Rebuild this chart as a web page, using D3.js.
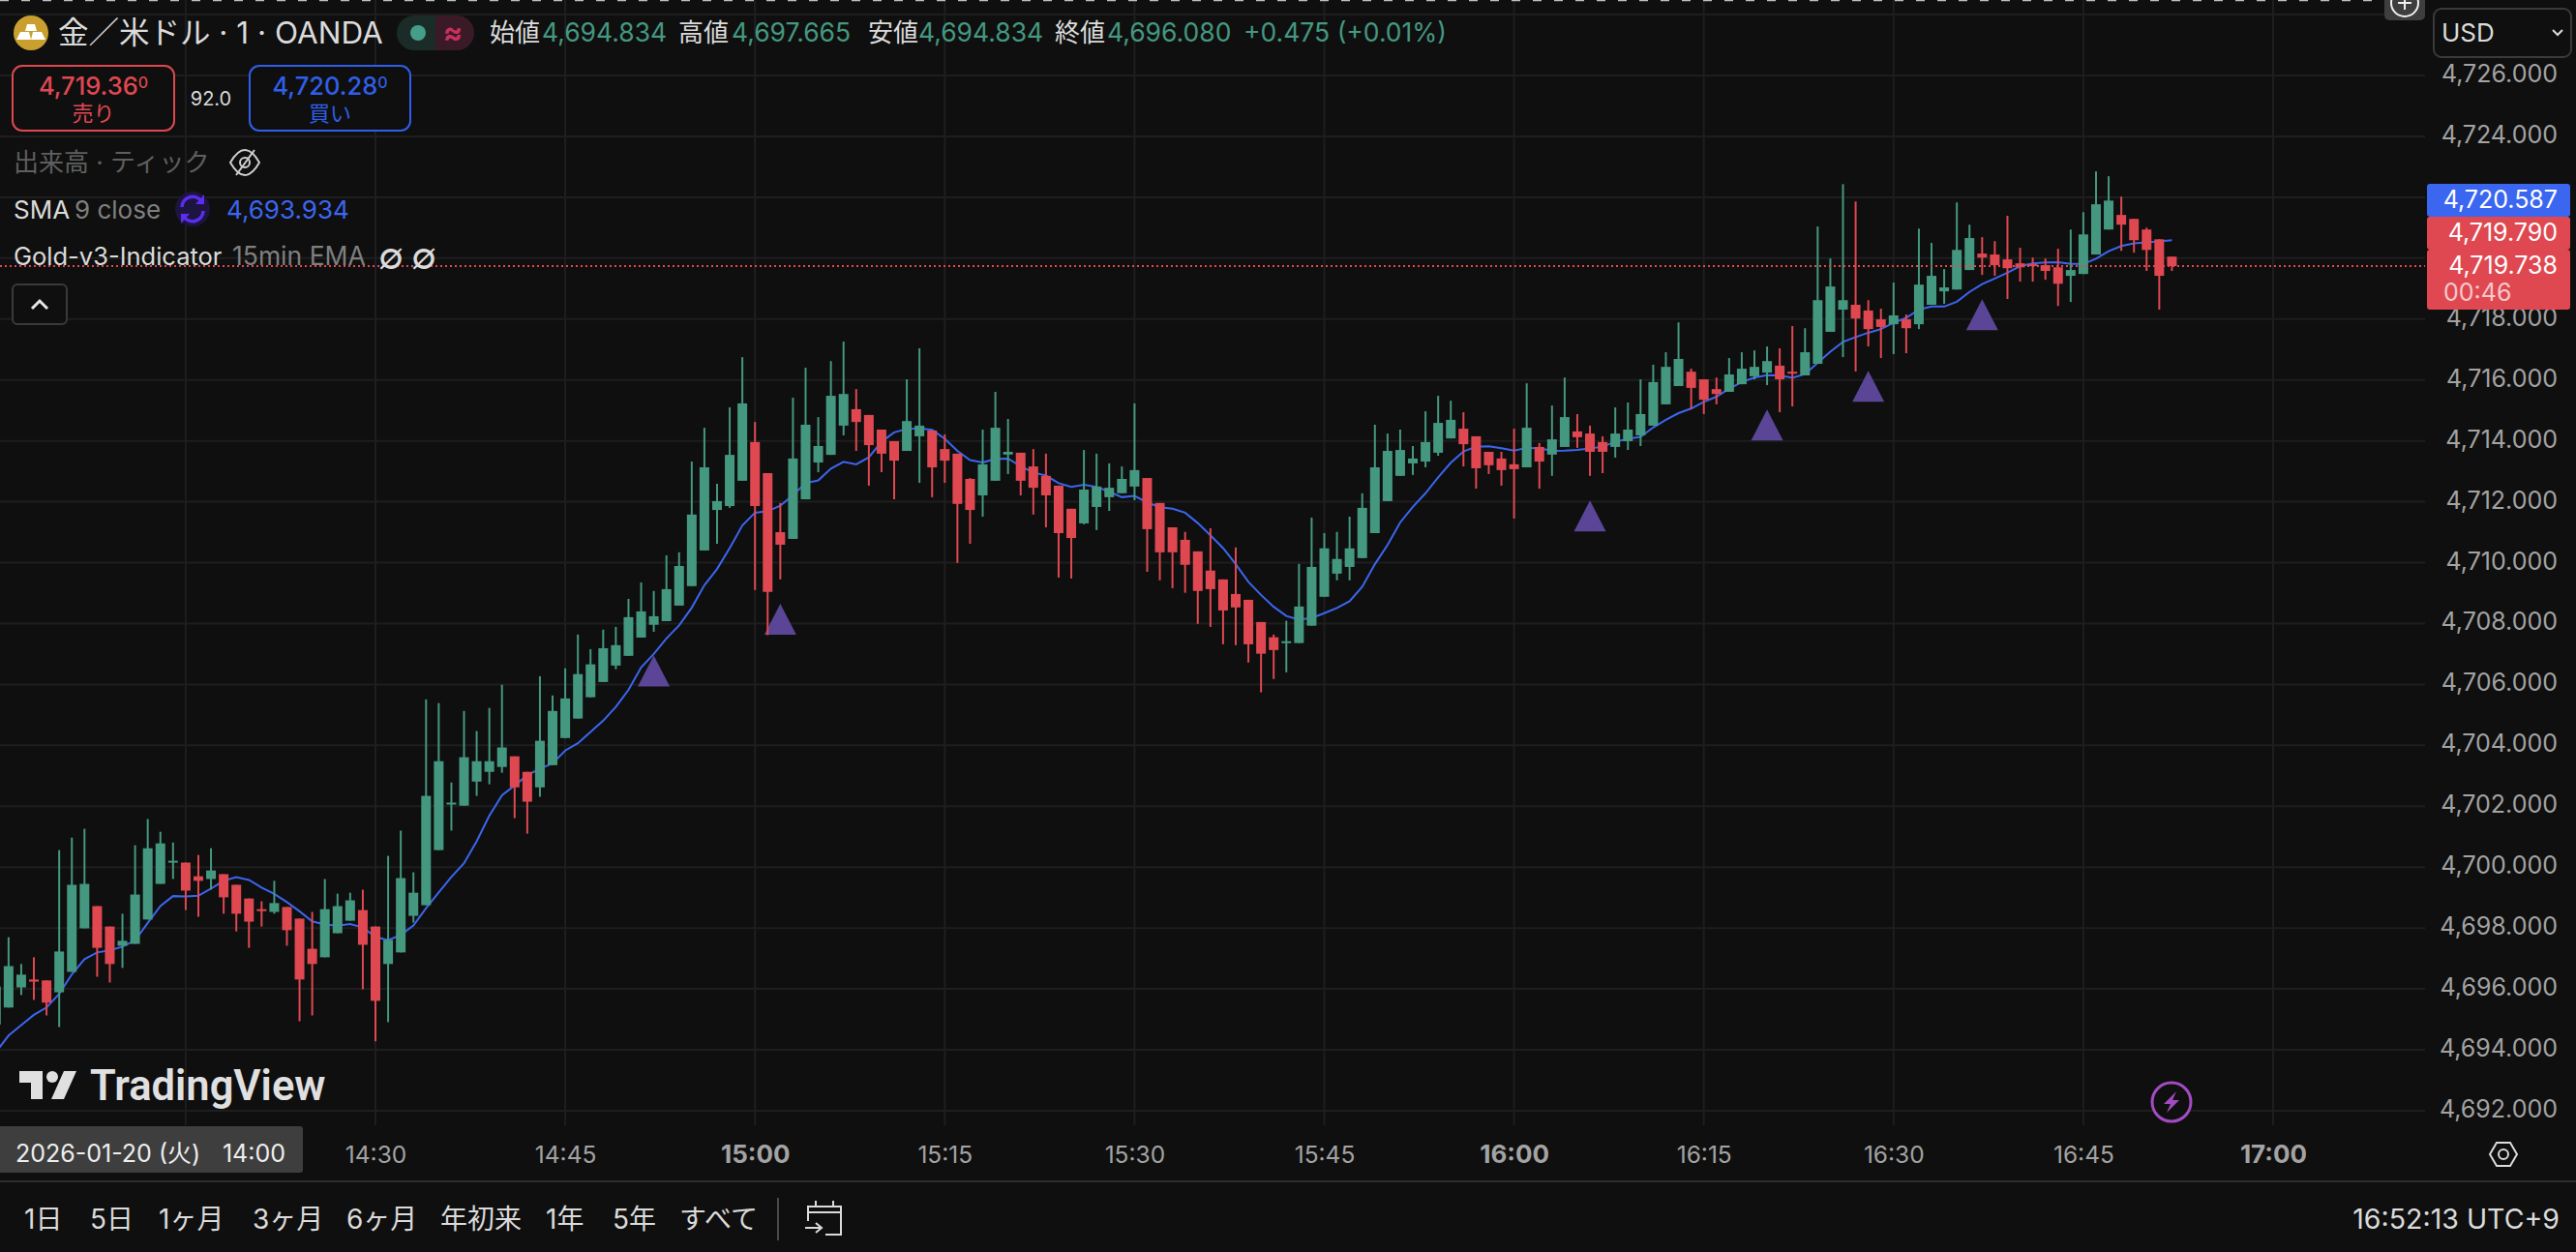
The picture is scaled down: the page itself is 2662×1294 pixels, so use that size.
<!DOCTYPE html>
<html lang="ja">
<head>
<meta charset="utf-8">
<title>金／米ドル 1分足</title>
<script src="https://cdn.jsdelivr.net/npm/d3@7"></script>
<style>
    html, body { margin: 0; padding: 0; background: #0f0f0f; }
    svg { display: block; font-family: Inter, "Noto Sans CJK JP", sans-serif; }
    .domain, .tick line { display: none; }
</style>
</head>
<body>
<div id="chart"></div>
<script>
// One candle per minute, starting at 14:00
const opens = [
    4694.83,4695.39,4696.05,4696.31,4696.28,4695.89,4696.56,4697.99,4698.72,4698.05,
    4697.42,4697.48,4698.28,4699.45,4700.16,4700.15,4699.70,4699.61,4699.77,4699.42,
    4698.97,4698.62,4698.53,4698.69,4698.31,4697.32,4697.04,4697.83,4698.24,4698.59,
    4698.05,4696.82,4697.20,4698.40,4698.75,4700.56,4702.06,4702.02,4702.81,4703.13,
    4703.29,4703.64,4703.13,4702.62,4703.35,4704.24,4704.88,4705.58,4706.08,4706.62,
    4706.94,4707.54,4707.96,4708.08,4708.59,4709.23,4710.40,4711.73,4711.86,4712.69,
    4713.96,4712.94,4711.00,4710.78,4712.08,4713.29,4713.54,4714.50,4715.04,4714.85,
    4714.37,4713.99,4713.67,4714.15,4714.34,4713.73,4713.58,4712.75,4712.21,4712.69,
    4713.55,4713.61,4713.16,4712.85,4712.53,4711.77,4711.29,4711.83,4712.15,4712.28,
    4712.50,4712.78,4711.96,4711.16,4710.75,4710.37,4709.74,4709.45,4708.97,4708.78,
    4708.05,4707.55,4707.36,4707.36,4707.93,4708.88,4709.64,4709.86,4710.15,4710.97,
    4712.02,4712.85,4713.26,4713.32,4713.61,4714.08,4714.40,4714.15,4713.64,4713.42,
    4713.23,4713.13,4713.80,4713.55,4713.80,4714.31,4714.24,4713.96,4713.80,4713.99,
    4714.18,4714.50,4715.20,4715.80,4716.27,4716.02,4715.70,4715.61,4715.86,4716.12,
    4716.24,4716.47,4716.27,4716.15,4716.53,4717.58,4718.31,4718.47,4718.28,4717.99,
    4717.83,4717.99,4717.83,4718.47,4718.91,4718.97,4719.61,4720.15,4720.12,4719.96,
    4719.83,4719.80,4719.77,4719.70,4719.42,4719.48,4720.12,4720.94,4721.42,4721.29,
    4720.94,4720.62,4720.05
];
const highs = [
    4697.67,4697.70,4696.82,4697.04,4696.28,4700.56,4700.97,4701.26,4698.72,4698.05,
    4698.47,4700.72,4701.58,4701.16,4700.81,4700.15,4700.40,4700.62,4699.77,4699.42,
    4698.97,4698.88,4699.55,4698.69,4698.31,4698.53,4699.61,4699.13,4699.16,4699.26,
    4698.05,4700.37,4701.20,4699.83,4705.51,4705.39,4702.78,4705.13,4704.47,4705.23,
    4705.99,4703.64,4703.13,4706.27,4705.64,4706.53,4707.64,4707.16,4707.80,4707.89,
    4708.81,4709.35,4709.07,4710.24,4710.34,4713.32,4714.43,4712.59,4715.10,4716.75,
    4714.62,4712.94,4711.96,4715.42,4716.40,4714.78,4716.62,4717.26,4715.70,4714.85,
    4714.37,4713.99,4716.02,4717.04,4714.34,4714.21,4713.58,4712.78,4714.37,4715.61,
    4714.72,4713.61,4713.73,4713.58,4712.53,4711.77,4713.70,4713.58,4713.26,4713.16,
    4715.23,4712.78,4711.96,4711.16,4711.01,4710.37,4711.13,4709.45,4710.50,4708.78,
    4708.05,4707.64,4708.09,4709.96,4711.48,4710.97,4711.01,4711.51,4712.28,4714.53,
    4714.24,4714.37,4713.83,4714.97,4715.48,4715.32,4714.94,4714.15,4713.64,4713.64,
    4714.40,4715.89,4713.93,4715.16,4716.08,4714.88,4714.50,4714.15,4715.10,4715.26,
    4716.02,4716.50,4716.91,4717.89,4716.37,4716.02,4716.08,4716.72,4716.91,4716.97,
    4717.10,4717.04,4717.77,4717.70,4721.04,4719.99,4722.43,4721.86,4718.62,4718.34,
    4719.20,4718.15,4720.97,4720.50,4719.64,4721.83,4721.10,4720.69,4720.56,4721.39,
    4720.34,4720.02,4719.99,4720.31,4720.94,4721.51,4722.85,4722.69,4722.02,4721.29,
    4721.00,4720.62,4720.05
];
const lows = [
    4694.83,4695.39,4695.80,4695.64,4695.13,4694.75,4696.56,4697.99,4696.40,4696.21,
    4696.69,4697.48,4698.28,4699.45,4699.61,4698.59,4698.37,4699.26,4698.47,4697.89,
    4697.35,4698.05,4698.47,4697.42,4694.94,4695.13,4697.04,4697.83,4698.24,4695.99,
    4694.28,4694.91,4697.20,4698.18,4698.75,4700.56,4701.20,4702.02,4702.34,4702.72,
    4703.10,4701.61,4701.10,4702.31,4703.35,4704.24,4704.88,4705.58,4706.08,4706.50,
    4706.94,4707.54,4707.73,4708.08,4708.59,4709.23,4710.40,4710.62,4711.80,4712.69,
    4709.10,4707.62,4709.45,4710.78,4712.08,4712.97,4713.54,4714.18,4713.67,4712.53,
    4712.97,4712.08,4713.67,4712.62,4712.15,4712.62,4709.99,4710.62,4711.51,4712.69,
    4712.91,4712.21,4711.58,4711.16,4709.51,4709.48,4711.26,4711.07,4711.70,4712.28,
    4712.05,4709.70,4709.42,4709.16,4709.01,4707.99,4707.89,4707.32,4707.29,4706.72,
    4705.74,4706.18,4706.40,4707.36,4707.93,4708.88,4709.42,4709.42,4710.15,4710.97,
    4712.02,4712.85,4712.88,4713.13,4713.51,4714.08,4713.16,4712.43,4712.91,4712.53,
    4711.45,4713.13,4712.43,4712.85,4713.80,4713.77,4712.85,4712.94,4713.45,4713.70,
    4713.83,4714.50,4715.20,4715.80,4715.04,4714.88,4715.20,4715.61,4715.86,4716.02,
    4715.83,4714.94,4715.13,4716.15,4716.53,4717.58,4716.75,4716.28,4717.10,4716.72,
    4716.85,4716.88,4717.67,4718.47,4718.50,4718.97,4719.61,4719.45,4719.42,4718.66,
    4719.23,4719.23,4719.29,4718.43,4718.56,4719.48,4720.12,4720.94,4720.24,4720.18,
    4719.58,4718.31,4719.58
];
const closes = [
    4696.08,4696.75,4696.47,4696.24,4695.55,4697.23,4699.42,4699.45,4697.35,4696.82,
    4697.58,4699.10,4700.62,4700.78,4700.21,4699.23,4699.55,4699.89,4699.01,4698.47,
    4698.21,4698.56,4698.82,4697.93,4696.31,4696.82,4698.62,4698.72,4698.91,4697.45,
    4695.61,4697.61,4699.64,4699.16,4702.34,4703.48,4702.12,4703.61,4703.48,4703.48,
    4703.93,4702.62,4702.15,4704.15,4705.13,4705.54,4706.34,4706.66,4707.19,4707.29,
    4708.21,4708.40,4708.24,4709.13,4709.89,4711.58,4713.13,4712.02,4713.54,4715.23,
    4711.86,4709.04,4710.59,4713.42,4714.53,4713.83,4715.48,4715.54,4714.62,4713.86,
    4713.58,4713.35,4714.65,4714.50,4713.13,4713.35,4711.93,4711.73,4713.23,4714.43,
    4713.64,4712.69,4712.46,4712.21,4710.97,4710.81,4712.40,4712.50,4712.46,4712.75,
    4713.04,4711.10,4710.34,4710.34,4709.93,4709.07,4709.13,4708.43,4708.53,4707.32,
    4707.01,4707.13,4707.42,4708.56,4709.86,4710.47,4710.12,4710.47,4711.80,4713.13,
    4713.67,4713.70,4713.42,4713.96,4714.59,4714.69,4713.89,4713.10,4713.20,4713.04,
    4713.07,4714.43,4713.32,4714.05,4714.78,4714.12,4713.64,4713.64,4714.24,4714.37,
    4714.88,4715.93,4716.43,4716.69,4715.74,4715.35,4715.54,4716.18,4716.37,4716.43,
    4716.62,4716.02,4716.21,4716.91,4718.62,4719.07,4718.62,4718.02,4717.67,4717.74,
    4718.12,4717.70,4719.13,4719.42,4719.04,4720.27,4720.66,4720.02,4719.77,4719.67,
    4719.70,4719.74,4719.58,4719.16,4719.61,4720.78,4721.77,4721.89,4721.10,4720.59,
    4720.27,4719.42,4719.74
];
// SMA 9
const smaValues = [
    4693.93,4694.47,4694.81,4695.15,4695.39,4695.84,4696.48,4696.98,4697.20,4697.27,
    4697.39,4697.59,4698.17,4698.72,4699.05,4699.04,4699.06,4699.30,4699.55,4699.67,
    4699.58,4699.33,4699.12,4698.85,4698.55,4698.22,4698.12,4698.08,4698.13,4698.02,
    4697.71,4697.60,4697.77,4698.08,4698.65,4699.17,4699.68,4700.13,4700.85,4701.69,
    4702.36,4702.68,4703.02,4703.23,4703.41,4703.83,4704.07,4704.44,4704.81,4705.26,
    4705.82,4706.56,4707.00,4707.51,4707.94,4708.52,4709.26,4709.79,4710.48,4711.22,
    4711.64,4711.69,4711.87,4712.22,4712.61,4712.70,4713.09,4713.31,4713.23,4713.46,
    4713.97,4714.28,4714.39,4714.41,4714.36,4714.07,4713.67,4713.37,4713.29,4713.41,
    4713.42,4713.17,4712.96,4712.86,4712.61,4712.49,4712.56,4712.49,4712.33,4712.15,
    4712.19,4711.98,4711.82,4711.77,4711.64,4711.30,4710.90,4710.48,4709.95,4709.37,
    4708.94,4708.55,4708.25,4708.13,4708.18,4708.34,4708.51,4708.73,4709.21,4709.95,
    4710.58,4711.32,4711.83,4712.28,4712.80,4713.28,4713.65,4713.81,4713.82,4713.76,
    4713.68,4713.77,4713.76,4713.67,4713.68,4713.70,4713.75,4713.81,4713.97,4714.07,
    4714.13,4714.44,4714.69,4714.91,4715.06,4715.28,4715.45,4715.71,4715.93,4716.08,
    4716.16,4716.15,4716.07,4716.19,4716.56,4716.93,4717.25,4717.41,4717.55,4717.67,
    4717.88,4718.04,4718.31,4718.41,4718.41,4718.57,4718.89,4719.15,4719.33,4719.52,
    4719.74,4719.83,4719.86,4719.87,4719.81,4719.81,4719.98,4720.23,4720.40,4720.49,
    4720.52,4720.55,4720.59
];
// Indicator signals: candle number and the price at the triangle's tip
const signalCandles = [52, 62, 126, 140, 148, 157];
const signalPrices = [4706.95, 4708.65, 4712.04, 4715.03, 4716.30, 4718.65];

const priceTicks = [4728,4726,4724,4722,4720,4718,4716,4714,4712,4710,4708,4706,4704,4702,4700,4698,4696,4694,4692];
// 4,722 and 4,720 sit under the price badges, 4,728 under the USD box
const priceLabels = [4726,4724,4718,4716,4714,4712,4710,4708,4706,4704,4702,4700,4698,4696,4694,4692];
const timeTicks = ["14:15","14:30","14:45","15:00","15:15","15:30","15:45","16:00","16:15","16:30","16:45","17:00"];
const boldTimes = ["15:00","16:00","17:00"];
const rangeButtons = ["1日","5日","1ヶ月","3ヶ月","6ヶ月","年初来","1年","5年","すべて"];
const rangeButtonX = [25,93,164,261,358,455,564,633,702];
const ohlcLabels = ["始値","高値","安値","終値"];
const ohlcValues = ["4,694.834","4,697.665","4,694.834","4,696.080"];
const ohlcLabelX = [506,701,897,1090];
const ohlcValueX = [560,756,949,1144];

const lastPrice = 4719.738;

const GREEN = "#459880";
const RED = "#df4851";
const BLUE = "#3b66f0";
const GRID = "#1e1e1e";
const TEXT = "#dbdbdb";
const MUTED = "#a3a3a3";

const width = 2662;
const height = 1294;
const plotRight = 2506;
const plotBottom = 1163;

const svg = d3.select("#chart").append("svg")
    .attr("width", width)
    .attr("height", height);

svg.append("rect").attr("width", width).attr("height", height).attr("fill", "#0f0f0f");

// Scales
const timeOf = i => new Date(2026, 0, 20, 14, i);
const parseTime = d3.timeParse("%Y-%m-%d %H:%M");
const x = d3.scaleTime()
    .domain([timeOf(30), timeOf(180)])
    .range([388, 2349]);
const y = d3.scaleLinear()
    .domain([4692, 4726])
    .range([1148, 78]);

svg.append("defs").append("clipPath").attr("id", "plot")
    .append("rect").attr("width", plotRight).attr("height", plotBottom);

// Grid lines
const grid = svg.append("g");
grid.selectAll(".h").data(priceTicks).enter().append("line")
    .attr("x1", 0).attr("x2", plotRight)
    .attr("y1", d => y(d)).attr("y2", d => y(d))
    .attr("stroke", GRID).attr("stroke-width", 2);
grid.selectAll(".v").data(timeTicks).enter().append("line")
    .attr("x1", d => x(parseTime("2026-01-20 " + d))).attr("x2", d => x(parseTime("2026-01-20 " + d)))
    .attr("y1", 0).attr("y2", plotBottom)
    .attr("stroke", GRID).attr("stroke-width", 2);

const plot = svg.append("g").attr("clip-path", "url(#plot)");

// SMA line goes under the candles
const smaLine = d3.line()
    .x((d, i) => x(timeOf(i)))
    .y(d => y(d));
plot.append("path")
    .attr("d", smaLine(smaValues))
    .attr("fill", "none")
    .attr("stroke", BLUE)
    .attr("stroke-width", 2);

// Signal triangles
plot.selectAll(".signal").data(signalCandles).enter().append("path")
    .attr("d", (d, i) => {
        const p = d3.path();
        const tx = x(timeOf(d)), ty = y(signalPrices[i]);
        p.moveTo(tx, ty);
        p.lineTo(tx + 16.5, ty + 32);
        p.lineTo(tx - 16.5, ty + 32);
        p.closePath();
        return p.toString();
    })
    .attr("fill", "#5a4596");

// Candles
const candles = plot.selectAll(".candle").data(opens).enter().append("g");
candles.append("line")
    .attr("x1", (d, i) => x(timeOf(i))).attr("x2", (d, i) => x(timeOf(i)))
    .attr("y1", (d, i) => y(highs[i])).attr("y2", (d, i) => y(lows[i]))
    .attr("stroke", (d, i) => closes[i] >= d ? GREEN : RED)
    .attr("stroke-width", 2);
candles.append("rect")
    .attr("x", (d, i) => x(timeOf(i)) - 5)
    .attr("width", 10)
    .attr("y", (d, i) => y(Math.max(d, closes[i])))
    .attr("height", (d, i) => Math.max(2, Math.abs(y(d) - y(closes[i]))))
    .attr("fill", (d, i) => closes[i] >= d ? GREEN : RED);

// Last price dotted line
svg.append("line")
    .attr("x1", 0).attr("x2", plotRight)
    .attr("y1", y(lastPrice)).attr("y2", y(lastPrice))
    .attr("stroke", RED).attr("stroke-width", 2)
    .attr("stroke-dasharray", "2 3");

// Price axis
const yAxis = d3.axisRight(y)
    .tickValues(priceLabels)
    .tickFormat(d3.format(",.3f"))
    .tickSize(0).tickPadding(0);
svg.append("g")
    .attr("transform", "translate(2643,-1.5)")
    .call(yAxis)
    .call(g => g.selectAll("text")
        .attr("x", 0)
        .attr("text-anchor", "end")
        .attr("dy", "0.32em")
        .attr("fill", MUTED)
        .style("font-family", "Inter")
        .style("font-size", "25px"));

// Time axis
const xAxis = d3.axisBottom(x)
    .tickValues(timeTicks.slice(1).map(d => parseTime("2026-01-20 " + d)))
    .tickFormat(d3.timeFormat("%H:%M"))
    .tickSize(0).tickPadding(0);
svg.append("g")
    .attr("transform", "translate(0,1193)")
    .call(xAxis)
    .call(g => g.selectAll("text")
        .attr("y", 0)
        .attr("dy", "0.35em")
        .attr("fill", MUTED)
        .style("font-family", "Inter")
        .style("font-size", d => boldTimes.includes(d3.timeFormat("%H:%M")(d)) ? "26px" : "24.5px")
        .style("font-weight", d => boldTimes.includes(d3.timeFormat("%H:%M")(d)) ? 700 : 400));

svg.append("rect").attr("y", 1220).attr("width", width).attr("height", 2).attr("fill", "#2e2e2e");
svg.append("rect").attr("x", -6).attr("y", 1164).attr("width", 319).attr("height", 48).attr("rx", 3).attr("fill", "#3e3e3e");

function label(txt, px, py, fill, size, anchor, weight) {
    return svg.append("text")
        .attr("x", px).attr("y", py)
        .attr("dy", "0.35em")
        .attr("fill", fill)
        .attr("text-anchor", anchor || "start")
        .style("font-size", (size || 26) + "px")
        .style("font-weight", weight || 400)
        .text(txt);
}

label("2026-01-20 (火)", 16, 1192, "#eeeeee", 25);
label("14:00", 295, 1192, "#eeeeee", 25, "end");

// Top strip and zoom button
svg.append("line").attr("x1", 0).attr("x2", 2464).attr("y1", 0.5).attr("y2", 0.5)
    .attr("stroke", "#bdbdbd").attr("stroke-width", 1.5).attr("stroke-dasharray", "9 13");
svg.append("path").attr("d", "M2464,0H2506V16a5,5 0 0 1 -5,5H2469a5,5 0 0 1 -5,-5Z").attr("fill", "#3e3e3e");
svg.append("circle").attr("cx", 2485).attr("cy", 3).attr("r", 14).attr("fill", "none").attr("stroke", "#f0f0f0").attr("stroke-width", 2);
svg.append("path").attr("d", "M2478,3H2492M2485,0V10").attr("stroke", "#f0f0f0").attr("stroke-width", 2);

// Symbol title
svg.append("circle").attr("cx", 32).attr("cy", 34).attr("r", 18).attr("fill", "#c9a02f");
svg.append("path").attr("d", "M28,25H36L38,32H26ZM21,33H30L32,41H17ZM34,33H43L47,41H32Z").attr("fill", "#ffffff");
label("金／米ドル · 1 · OANDA", 60, 34, TEXT, 31.5);

svg.append("path").attr("d", "M450,16H428a18,18 0 0 0 0,36H450Z").attr("fill", "#1a2b28");
svg.append("path").attr("d", "M450,16H472a18,18 0 0 1 0,36H450Z").attr("fill", "#3a1a26");
svg.append("circle").attr("cx", 432).attr("cy", 34).attr("r", 8).attr("fill", "#459f88");
label("≈", 468, 33, "#c9305f", 30, "middle", 700);

// OHLC row
ohlcLabels.forEach((d, i) => {
    label(d, ohlcLabelX[i], 34, TEXT, 26);
    label(ohlcValues[i], ohlcValueX[i], 34, GREEN, 26.5);
});
label("+0.475 (+0.01%)", 1285, 34, GREEN, 26.5);

// Sell / buy boxes
function quoteBox(bx, bw, color, price, caption) {
    svg.append("rect").attr("x", bx).attr("y", 68).attr("width", bw).attr("height", 67).attr("rx", 10)
        .attr("fill", "#0f0f0f").attr("stroke", color).attr("stroke-width", 2);
    const t = label(price, bx + bw / 2, 89, color, 25.5, "middle", 500);
    t.append("tspan").attr("dy", "-0.45em").style("font-size", "16px").text("0");
    label(caption, bx + bw / 2, 117, color, 22, "middle");
}
quoteBox(13, 167, RED, "4,719.36", "売り");
quoteBox(258, 166, "#2f5fe8", "4,720.28", "買い");
label("92.0", 218, 102, TEXT, 20, "middle");

// Legend rows
label("出来高 · ティック", 14, 168, "#5f5f5f", 26);
svg.append("path").attr("d", "M238,168q15,-26 30,0q-15,26 -30,0ZM244,181L263,155").attr("fill", "none").attr("stroke", "#cfcfcf").attr("stroke-width", 2);
svg.append("circle").attr("cx", 253).attr("cy", 168).attr("r", 5).attr("fill", "none").attr("stroke", "#cfcfcf").attr("stroke-width", 2);

label("SMA", 14, 217, TEXT, 26);
label("9 close", 77, 217, "#7f7f7f", 26);
svg.append("circle").attr("cx", 199).attr("cy", 216).attr("r", 18).attr("fill", "#1d1540");
svg.append("path").attr("d", "M188,214a11,11 0 0 1 20,-6M210,218a11,11 0 0 1 -20,6").attr("fill", "none").attr("stroke", "#5a2df0").attr("stroke-width", 3.5);
svg.append("path").attr("d", "M211,201V211H202ZM187,231V221H196Z").attr("fill", "#5a2df0");
label("4,693.934", 234, 217, BLUE, 26);

label("Gold-v3-Indicator", 14, 265, TEXT, 25.5);
label("15min EMA", 240, 265, "#7f7f7f", 26.5);
label("∅", 404, 265, TEXT, 38, "middle");
label("∅", 438, 265, TEXT, 38, "middle");

svg.append("rect").attr("x", 13).attr("y", 294).attr("width", 56).attr("height", 41).attr("rx", 5)
    .attr("fill", "#0f0f0f").attr("stroke", "#3a3a3a").attr("stroke-width", 2);
svg.append("path").attr("d", "M33,319L41,311L49,319").attr("fill", "none").attr("stroke", "#e8e8e8").attr("stroke-width", 3);

// Price scale badges
svg.append("rect").attr("x", 2508).attr("y", 190).attr("width", 148).attr("height", 34).attr("rx", 3).attr("fill", BLUE);
svg.append("rect").attr("x", 2508).attr("y", 224).attr("width", 148).attr("height", 34).attr("rx", 3).attr("fill", RED);
svg.append("rect").attr("x", 2508).attr("y", 258).attr("width", 148).attr("height", 62).attr("rx", 3).attr("fill", RED);
label("4,720.587", 2643, 206.5, "#ffffff", 25, "end");
label("4,719.790", 2643, 240.5, "#ffffff", 25, "end");
label("4,719.738", 2643, 274, "#ffffff", 25, "end");
label("00:46", 2525, 302, "#f6c9cc", 25);

svg.append("rect").attr("x", 2515).attr("y", 9).attr("width", 142).attr("height", 50).attr("rx", 8)
    .attr("fill", "#0f0f0f").attr("stroke", "#3a3a3a").attr("stroke-width", 2);
label("USD", 2523, 34, TEXT, 26);
svg.append("path").attr("d", "M2638,31L2643,36L2648,31").attr("fill", "none").attr("stroke", TEXT).attr("stroke-width", 2);

// TradingView watermark
svg.append("path").attr("d", "M20,1107H44V1136H32V1119H20ZM79,1107L66,1136H53L66,1107Z").attr("fill", "#e0e0e0");
svg.append("circle").attr("cx", 54).attr("cy", 1113).attr("r", 6).attr("fill", "#e0e0e0");
label("TradingView", 93, 1122, "#e0e0e0", 43.5, "start", 600).style("font-family", "Roboto");

// Bolt icon
svg.append("circle").attr("cx", 2244).attr("cy", 1139).attr("r", 20).attr("fill", "#0f0f0f").attr("stroke", "#a24bc2").attr("stroke-width", 3);
svg.append("path").attr("d", "M2249,1128L2236,1141H2243L2239,1150L2252,1137H2245Z").attr("fill", "#a24bc2");

// Settings hexagon
svg.append("path").attr("d", "M2580,1181H2594L2601,1193L2594,1205H2580L2573,1193Z").attr("fill", "none").attr("stroke", "#dbdbdb").attr("stroke-width", 2);
svg.append("circle").attr("cx", 2587).attr("cy", 1193).attr("r", 5).attr("fill", "none").attr("stroke", "#dbdbdb").attr("stroke-width", 2);

// Bottom bar
rangeButtons.forEach((d, i) => label(d, rangeButtonX[i], 1260, TEXT, 28));
svg.append("line").attr("x1", 804).attr("x2", 804).attr("y1", 1238).attr("y2", 1282).attr("stroke", "#4a4a4a").attr("stroke-width", 2);
svg.append("path").attr("d", "M835,1262V1247H869V1276H853M835,1253H869M843,1241V1248M861,1241V1248M832,1269H848M843,1264L849,1269L843,1274")
    .attr("fill", "none").attr("stroke", TEXT).attr("stroke-width", 2);
label("16:52:13 UTC+9", 2645, 1260, TEXT, 28.5, "end");
</script>
</body>
</html>
